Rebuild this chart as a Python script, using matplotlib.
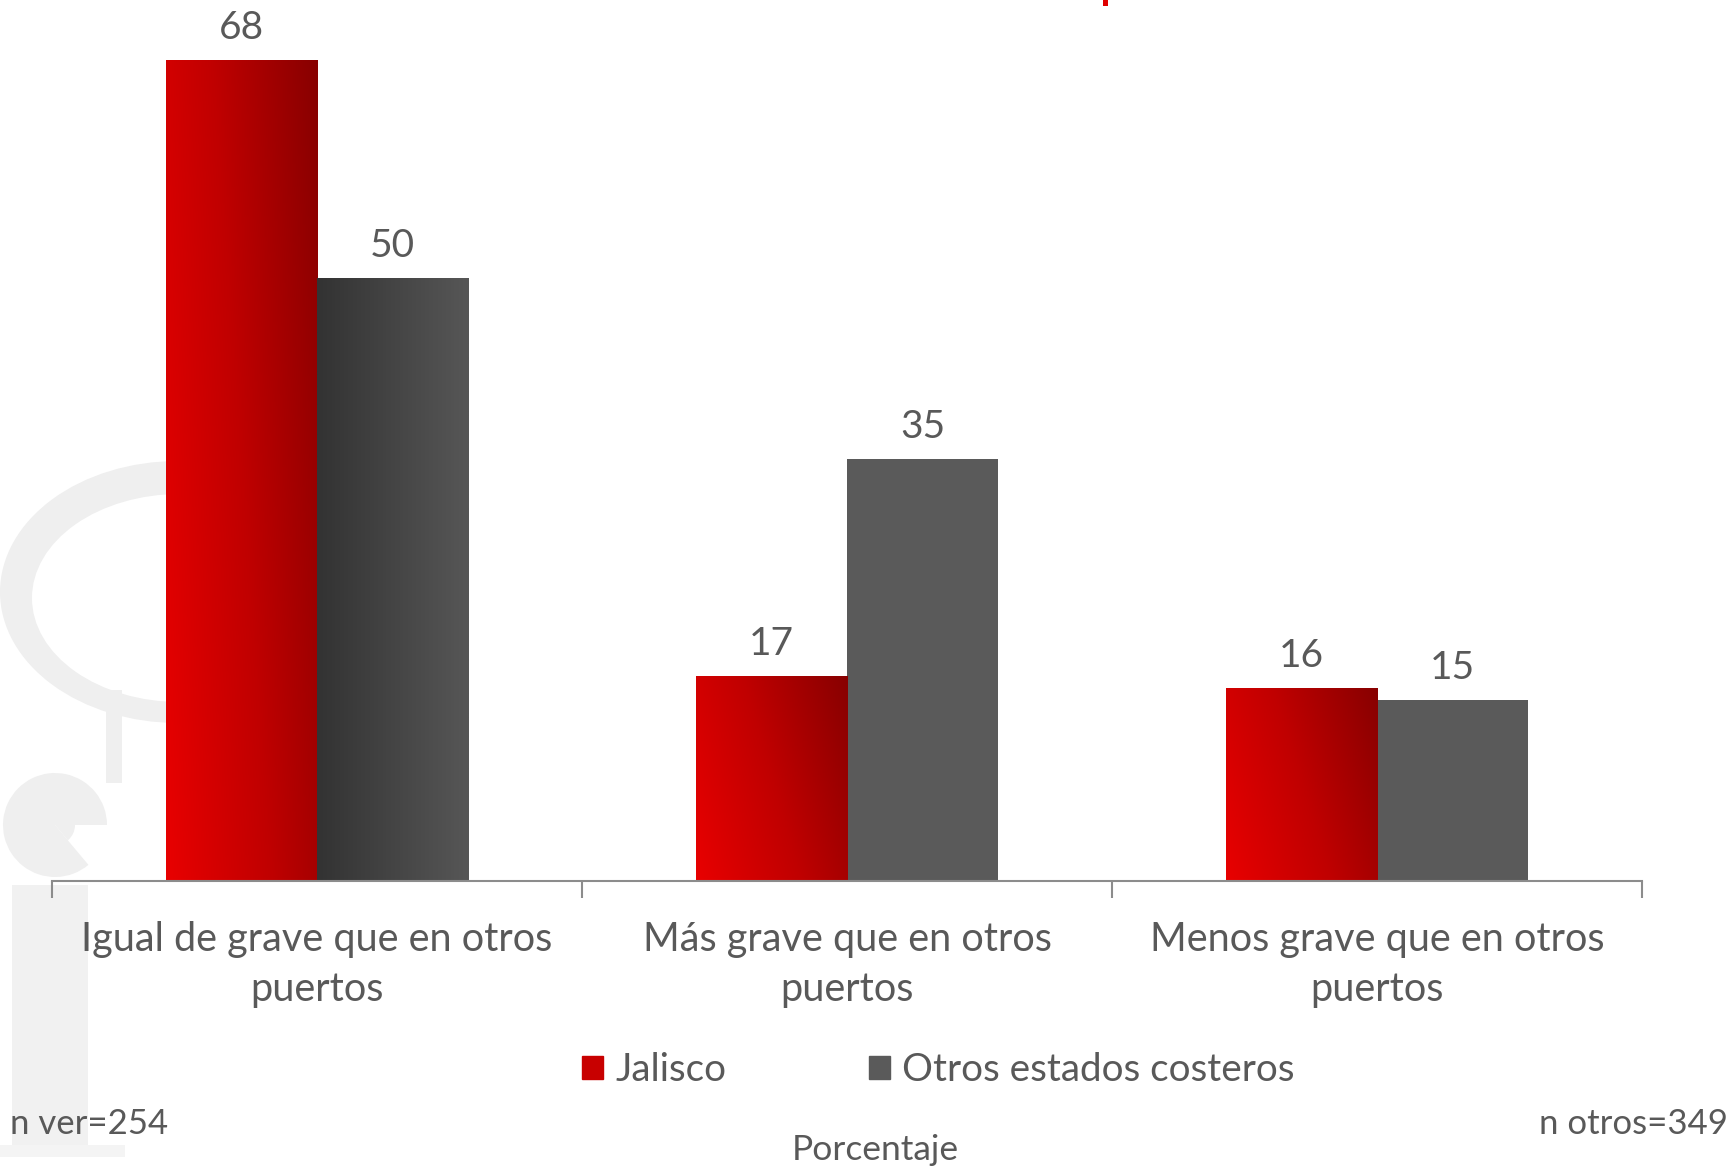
import numpy as np
import matplotlib
matplotlib.use("Agg")
import matplotlib.pyplot as plt
from matplotlib.colors import LinearSegmentedColormap
from matplotlib.patches import Rectangle, Wedge, Ellipse

categorias = ["Igual de grave que en otros\npuertos",
              "Más grave que en otros\npuertos",
              "Menos grave que en otros\npuertos"]
jalisco = [68, 17, 16]
otros = [50, 35, 15]
series = ["Jalisco", "Otros estados costeros"]

TXT = "#595959"
WM = "#efefef"
plt.rcParams["font.family"] = ["Lato", "DejaVu Sans"]

fig = plt.figure(figsize=(17.31, 11.68), dpi=100)

# pale logo watermark at the left (pixel coords)
wm = fig.add_axes([0, 0, 1, 1], zorder=0)
wm.set_xlim(0, 1731)
wm.set_ylim(1168, 0)
wm.axis("off")
wm.add_patch(Ellipse((178, 592), 356, 262, color=WM, lw=0))
wm.add_patch(Ellipse((180, 598), 296, 208, color="white", lw=0))
wm.add_patch(Rectangle((106, 690), 16, 93, color=WM, lw=0))
wm.add_patch(Wedge((55, 825), 52, 50, 360, color=WM, lw=0))
wm.add_patch(Wedge((55, 825), 20, 0, 50, color=WM, lw=0))
wm.add_patch(Rectangle((12, 885), 76, 265, color="#f1f1f1", lw=0))
wm.add_patch(Rectangle((0, 1145), 125, 12, color="#f4f4f4", lw=0))
wm.add_patch(Rectangle((1103, 0), 5, 6, color="#e00000", lw=0))

ax = fig.add_axes([52 / 1731, 1 - 881 / 1168, 1590 / 1731, 881 / 1168], zorder=1)
ax.patch.set_alpha(0)

x = np.arange(len(categorias))
w = 0.285
b1 = ax.bar(x - w / 2, jalisco, w, color="#c00000", lw=0)
b2 = ax.bar(x + w / 2, otros, w, color="#5a5a5a", lw=0)

red_cmap = LinearSegmentedColormap.from_list("r", ["#e80000", "#c00000", "#880000"])
gray_cmap = LinearSegmentedColormap.from_list("g", ["#333333", "#565656"])
u, v = np.meshgrid(np.linspace(0, 1, 60), np.linspace(0, 1, 200))
for bar in b1:
    grad = 0.72 * u + 0.28 * v
    im = ax.imshow(grad, cmap=red_cmap, origin="lower", aspect="auto",
                   extent=[bar.get_x(), bar.get_x() + w, 0, bar.get_height()], zorder=2)
    im.set_clip_path(bar)
bar = b2[0]
im = ax.imshow(u, cmap=gray_cmap, origin="lower", aspect="auto",
               extent=[bar.get_x(), bar.get_x() + w, 0, bar.get_height()], zorder=2)
im.set_clip_path(bar)

for bars, vals in ((b1, jalisco), (b2, otros)):
    for bar, val in zip(bars, vals):
        ax.annotate(str(val), (bar.get_x() + w / 2, val), xytext=(0, 10),
                    textcoords="offset points", ha="center", va="bottom",
                    fontsize=28, color=TXT)

ax.set_xlim(-0.5, 2.5)
ax.set_ylim(0, 73)
ax.set_autoscale_on(False)
for s in ("top", "right", "left"):
    ax.spines[s].set_visible(False)
ax.spines["bottom"].set_color("#8c8c8c")
ax.spines["bottom"].set_linewidth(1.5)
ax.set_yticks([])
ax.set_xticks(x)
ax.set_xticklabels(categorias, fontsize=28.5, color=TXT, linespacing=1.42)
ax.tick_params(axis="x", which="major", length=0, pad=29)
ax.set_xticks([-0.5, 0.5, 1.5, 2.5], minor=True)
ax.tick_params(axis="x", which="minor", length=12, width=1.5, color="#8c8c8c")

handles = [Rectangle((0, 0), 1, 1, color="#c80000"), Rectangle((0, 0), 1, 1, color="#5a5a5a")]
fig.legend(handles, series, loc="center", bbox_to_anchor=(0.542, 1 - 1070 / 1168),
           ncol=2, frameon=False, fontsize=27.8, labelcolor=TXT,
           handlelength=0.55, handleheight=0.55, handletextpad=0.3, columnspacing=3.7)

fig.text(10 / 1731, 1 - 1124 / 1168, "n ver=254", fontsize=25, color=TXT, va="center")
fig.text(1728 / 1731, 1 - 1124 / 1168, "n otros=349", fontsize=25, color=TXT,
         va="center", ha="right")
fig.text(875 / 1731, 1 - 1150 / 1168, "Porcentaje", fontsize=25.5, color=TXT,
         va="center", ha="center")

fig.savefig("out.png", dpi=100)
